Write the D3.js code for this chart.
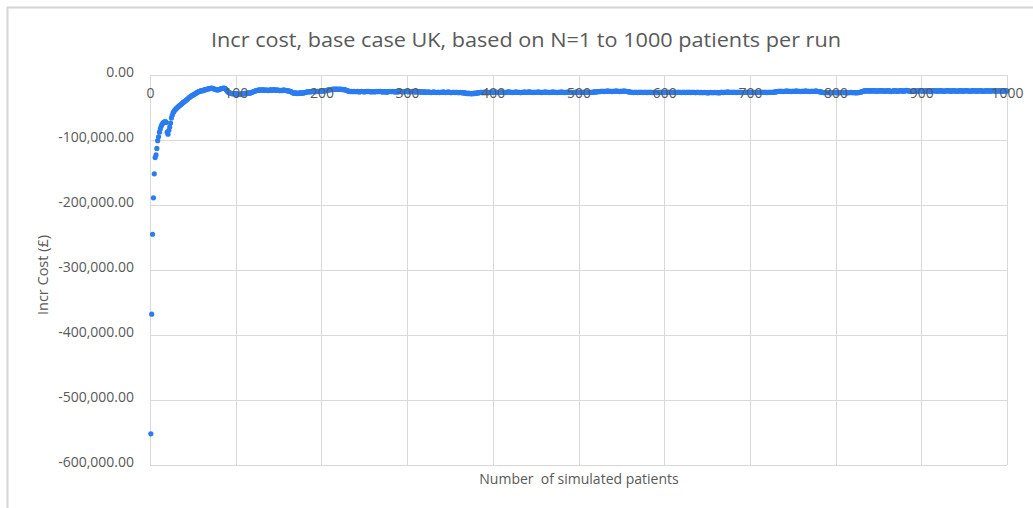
<!DOCTYPE html>
<html>
<head>
<meta charset="utf-8">
<script src="https://cdn.jsdelivr.net/npm/d3@7"></script>
<style>
  html, body { margin: 0; padding: 0; background: #ffffff; }
  svg { display: block; }
  text { font-family: "Liberation Sans Narrow", "Open Sans", "Liberation Sans", sans-serif; fill: #595959; }
</style>
</head>
<body>
<svg id="chart" width="1033" height="508"></svg>
<script>
// Chart texts
const chartTitle = "Incr cost, base case UK, based on N=1 to 1000 patients per run";
const xAxisTitle = "Number  of simulated patients";
const yAxisTitle = "Incr Cost (£)";

// Axis ticks
const xTicks = [0, 100, 200, 300, 400, 500, 600, 700, 800, 900, 1000];
const yTicks = [0, -100000, -200000, -300000, -400000, -500000, -600000];

// Incremental cost (£) for runs of N = 1, 2, ... 1000 patients, in order
const incrCost = [
  -552000,-368000,-245000,-189000,-152000,-127000,-123000,-113000,-101000,-95000,-88000,-83000,-79000,-76000,-74000,-73000,-72000,-71500,-73000,-88000,
  -91000,-85000,-80000,-74000,-66000,-62000,-58000,-56000,-54000,-52500,-51000,-50000,-48500,-47500,-46500,-45500,-44500,-43000,-42000,-41000,
  -40000,-39000,-38000,-37000,-35500,-34500,-33500,-32500,-31500,-31000,-30000,-29500,-28500,-27500,-27000,-26000,-25500,-25000,-24500,-24000,
  -24500,-23500,-23000,-23000,-22500,-22000,-21500,-21500,-21000,-20500,-20500,-20000,-20500,-21000,-21500,-22000,-22500,-22500,-23000,-22500,
  -22000,-21500,-21000,-20500,-20500,-20000,-20500,-21000,-22500,-24500,-26000,-27000,-27500,-28000,-28500,-28500,-29000,-29000,-28500,-29000,
  -29500,-29000,-29500,-30000,-29500,-29000,-29500,-29000,-28500,-29000,-28500,-28000,-28500,-28000,-27500,-28000,-27500,-27000,-26500,-26000,
  -25500,-25000,-24500,-24000,-23500,-23500,-23000,-23500,-23000,-23000,-23500,-23000,-23000,-23500,-23500,-23000,-23500,-24000,-23500,-23000,
  -23000,-23500,-23000,-23000,-22500,-23000,-23500,-23500,-23000,-23500,-24000,-24000,-23500,-24000,-23500,-23000,-23500,-23500,-24000,-24000,
  -24500,-24500,-25000,-25500,-26000,-26500,-27500,-28000,-28000,-27500,-28000,-28500,-28000,-28000,-27500,-28000,-27500,-28000,-27500,-27000,
  -27000,-26500,-26000,-26000,-25500,-25500,-26000,-25500,-25500,-25000,-25500,-25000,-25500,-25500,-25000,-25000,-25500,-25000,-24500,-25000,
  -24500,-24500,-24000,-24500,-24000,-23500,-23500,-23000,-23000,-22500,-22500,-22000,-22000,-21500,-22000,-21500,-21500,-22000,-21500,-22000,
  -22000,-21500,-22000,-22000,-22500,-22000,-22500,-23000,-23500,-24000,-24500,-25000,-25000,-25500,-25000,-25500,-25500,-25000,-25500,-25500,
  -25500,-25000,-25500,-26000,-25500,-25500,-25000,-25500,-25500,-26000,-25500,-25500,-25000,-25500,-25000,-25500,-25500,-26000,-25500,-25500,
  -25500,-26000,-25500,-25000,-25500,-25500,-25000,-25500,-25000,-25500,-26000,-26000,-25500,-25500,-26000,-26500,-26000,-25500,-25500,-25000,
  -25500,-25500,-25000,-25500,-25500,-26000,-25500,-26000,-26000,-25500,-25500,-25000,-25500,-25500,-25500,-26000,-25500,-25500,-25000,-25500,
  -25500,-25500,-26000,-25500,-25500,-25000,-25500,-25500,-26000,-26000,-25500,-25500,-26000,-26000,-25500,-26000,-26000,-26500,-26000,-26000,
  -26500,-26000,-26500,-26500,-26000,-26500,-26500,-27000,-26500,-26500,-26000,-26500,-26500,-27000,-26500,-26500,-26500,-27000,-26500,-26500,
  -26500,-26000,-26500,-26500,-27000,-26500,-26500,-26000,-26500,-26500,-27000,-27000,-26500,-26500,-26500,-27000,-26500,-26500,-27000,-27000,
  -27000,-26500,-27000,-27000,-27500,-27000,-27500,-28000,-28000,-28500,-28500,-28000,-28500,-28500,-29000,-28500,-28500,-28000,-28500,-28000,
  -28000,-27500,-27500,-27000,-27000,-26500,-26500,-27000,-26500,-26500,-26500,-26000,-26500,-26500,-27000,-26500,-26500,-26500,-26000,-26500,
  -26500,-26500,-26000,-26500,-26500,-27000,-26500,-26500,-26500,-26000,-26500,-26500,-26500,-27000,-26500,-26500,-26500,-26000,-26000,-26500,
  -26500,-26500,-27000,-26500,-26500,-26500,-26000,-26500,-26500,-26500,-26500,-27000,-27000,-26500,-26500,-26500,-26000,-26500,-26500,-26500,
  -26500,-26000,-26000,-26500,-26500,-26500,-27000,-26500,-26500,-26500,-26500,-26500,-26000,-26500,-26500,-26500,-27000,-26500,-26500,-26500,
  -26000,-26500,-26500,-26500,-26500,-27000,-26500,-26500,-26500,-26000,-26500,-26500,-26500,-26500,-27000,-26500,-26500,-26500,-26500,-26000,
  -26500,-26500,-26500,-27000,-26500,-26500,-26500,-26000,-26500,-26500,-26500,-26500,-27000,-26500,-26500,-26500,-26500,-26000,-26500,-26500,
  -26500,-26500,-27000,-26500,-26500,-26500,-26500,-26500,-26000,-26500,-26500,-26500,-27000,-26500,-26500,-26500,-26500,-26000,-26000,-26000,
  -26000,-25500,-25500,-25500,-25500,-25000,-25000,-25000,-25000,-25500,-25000,-25000,-25000,-24500,-25000,-25000,-25000,-25000,-25500,-25000,
  -25000,-25000,-25000,-24500,-25000,-25000,-25000,-25500,-25000,-25000,-25000,-25000,-24500,-25000,-25000,-25000,-25500,-25500,-26000,-26000,
  -26500,-26500,-26500,-27000,-26500,-26500,-26500,-26500,-27000,-26500,-26500,-26500,-26500,-26500,-27000,-26500,-26500,-26500,-26500,-27000,
  -26500,-26500,-26500,-26500,-26500,-27000,-26500,-26500,-26500,-26500,-27000,-27000,-26500,-26500,-26500,-26500,-26500,-27000,-26500,-26500,
  -26500,-26500,-27000,-26500,-26500,-26500,-26500,-26500,-27000,-26500,-26500,-26500,-26500,-27000,-26500,-26500,-26500,-26500,-26500,-27000,
  -26500,-26500,-26500,-26500,-27000,-26500,-26500,-26500,-26500,-26500,-27000,-26500,-26500,-26500,-26500,-27000,-27000,-26500,-26500,-26500,
  -27000,-27000,-26500,-27000,-27000,-27000,-26500,-27000,-27000,-27000,-27500,-27000,-27000,-26500,-27000,-27000,-27000,-27000,-26500,-27000,
  -27000,-27000,-27000,-27500,-27000,-26500,-26500,-26500,-27000,-26500,-26500,-26500,-26500,-26000,-26500,-26500,-26500,-26500,-26500,-26500,
  -26500,-26500,-26500,-27000,-26500,-26500,-26500,-26500,-26500,-26500,-27000,-27000,-26500,-26500,-26500,-26500,-26500,-26500,-27000,-26500,
  -26500,-26500,-26500,-26500,-26500,-27000,-26500,-26500,-26500,-26500,-26500,-26500,-27000,-26500,-26500,-26500,-26500,-26500,-26500,-27000,
  -26500,-26500,-26500,-26500,-26500,-26500,-26500,-26500,-26000,-26000,-25500,-25500,-25000,-25000,-25000,-25000,-25000,-25000,-25500,-25000,
  -25000,-25000,-24500,-25000,-25000,-25000,-25000,-25500,-25000,-25000,-25000,-25000,-25000,-24500,-25000,-25000,-25000,-25000,-25500,-25000,
  -25000,-25000,-25000,-25000,-24500,-25000,-25000,-25000,-25000,-25500,-25000,-25000,-25000,-25000,-25000,-25000,-24500,-25000,-25000,-25500,
  -25500,-26000,-26000,-26500,-26500,-27000,-27000,-27000,-26500,-27000,-27000,-27000,-27000,-27500,-27000,-27000,-27000,-26500,-27000,-27000,
  -27000,-27000,-27500,-27000,-27000,-27000,-27000,-26500,-27000,-27000,-27000,-27000,-27500,-27000,-27000,-27000,-27000,-26500,-27000,-27000,
  -27000,-27000,-27000,-27500,-27000,-27000,-27000,-26500,-26500,-26000,-25500,-25000,-24500,-24500,-24500,-24500,-24000,-24500,-24500,-24500,
  -24500,-24500,-24000,-24500,-24500,-24500,-24500,-25000,-24500,-24500,-24500,-24000,-24500,-24500,-24500,-24500,-24500,-25000,-24500,-24500,
  -24500,-24000,-24500,-25000,-25500,-25000,-24500,-24500,-24000,-24500,-24500,-25000,-25000,-24500,-24000,-24000,-24500,-24500,-25000,-24500,
  -24500,-24000,-23500,-24000,-24500,-24500,-25000,-25500,-25000,-24500,-24500,-24000,-24500,-24500,-25000,-24500,-24500,-24000,-24000,-24500,
  -24500,-25000,-25000,-24500,-24500,-24000,-24500,-24500,-25000,-25500,-25000,-24500,-24500,-24000,-24000,-24500,-24500,-24500,-25000,-24500,
  -24500,-24000,-24500,-24500,-24500,-25000,-25000,-24500,-24500,-24000,-24000,-24500,-24500,-25000,-24500,-24500,-24500,-24000,-24500,-24500,
  -25000,-25000,-24500,-24500,-24000,-24500,-24500,-24500,-25000,-24500,-24500,-24000,-24000,-24500,-24500,-25000,-25000,-24500,-24500,-24500,
  -24000,-24500,-24500,-24500,-25000,-24500,-24500,-24000,-24500,-24500,-24500,-25000,-25000,-24500,-24500,-24000,-24500,-24500,-24500,-25000,
  -24500,-24500,-24000,-24000,-24500,-24500,-25000,-24500,-24500,-24500,-24000,-24500,-24500,-25000,-25000,-24500,-24500,-24000,-24500,-24500
];

// Each run's patient count is its position in the list (1-based)
const runs = incrCost.map((cost, i) => ({ patients: i + 1, cost }));

const svg = d3.select("#chart");
const plot = { left: 150, right: 1007, top: 75, bottom: 465 };

const x = d3.scaleLinear().domain([0, 1000]).range([plot.left, plot.right]);
const y = d3.scaleLinear().domain([-600000, 0]).range([plot.bottom, plot.top]);

// Outer chart frame
svg.append("rect")
  .attr("x", 7.5).attr("y", 7.5)
  .attr("width", 1060).attr("height", 540)
  .attr("fill", "#ffffff")
  .attr("stroke", "#d4d4d4")
  .attr("stroke-width", 2);

// Title
svg.append("text")
  .attr("x", 526).attr("y", 47)
  .attr("text-anchor", "middle")
  .attr("font-size", 20)
  .attr("textLength", 630)
  .attr("lengthAdjust", "spacingAndGlyphs")
  .text(chartTitle);

// Gridlines
svg.append("g")
  .selectAll("line.h")
  .data(yTicks)
  .join("line")
  .attr("x1", plot.left).attr("x2", plot.right)
  .attr("y1", d => Math.round(y(d)) + 0.5).attr("y2", d => Math.round(y(d)) + 0.5)
  .attr("stroke", "#d9d9d9").attr("stroke-width", 1);

svg.append("g")
  .selectAll("line.v")
  .data(xTicks)
  .join("line")
  .attr("x1", d => Math.round(x(d)) + 0.5).attr("x2", d => Math.round(x(d)) + 0.5)
  .attr("y1", plot.top).attr("y2", plot.bottom)
  .attr("stroke", "#d9d9d9").attr("stroke-width", 1);

// Y axis labels
const yFmt = d3.format(",.2f");
const yAxis = d3.axisLeft(y).tickValues(yTicks).tickSize(0).tickPadding(0)
  .tickFormat(d => yFmt(d).replace("−", "-"));
const gy = svg.append("g").attr("transform", `translate(${plot.left - 16},0)`).call(yAxis);
gy.select(".domain").remove();
gy.selectAll("text")
  .attr("font-size", 14)
  .attr("fill", "#595959")
  .attr("dy", "0.1em")
  .style("font-family", "\"Liberation Sans Narrow\", \"Open Sans\", sans-serif");

// Data points
svg.append("g")
  .selectAll("circle")
  .data(runs)
  .join("circle")
  .attr("cx", d => x(d.patients))
  .attr("cy", d => y(d.cost))
  .attr("r", 2.6)
  .attr("fill", "#2b7cf0");

// X axis labels, sitting under the zero line
const xAxis = d3.axisBottom(x).tickValues(xTicks).tickSize(0).tickPadding(0).tickFormat(d3.format("d"));
const gx = svg.append("g").attr("transform", `translate(0,${y(0) + 13})`).call(xAxis);
gx.select(".domain").remove();
gx.selectAll("text")
  .attr("font-size", 14)
  .attr("fill", "#595959")
  .style("font-family", "\"Liberation Sans Narrow\", \"Open Sans\", sans-serif");

// Axis titles
svg.append("text")
  .attr("transform", "translate(48,275) rotate(-90)")
  .attr("text-anchor", "middle")
  .attr("font-size", 14.5)
  .text(yAxisTitle);

svg.append("text")
  .attr("x", 579).attr("y", 484)
  .attr("text-anchor", "middle")
  .attr("font-size", 14)
  .attr("xml:space", "preserve")
  .text(xAxisTitle);
</script>
</body>
</html>
